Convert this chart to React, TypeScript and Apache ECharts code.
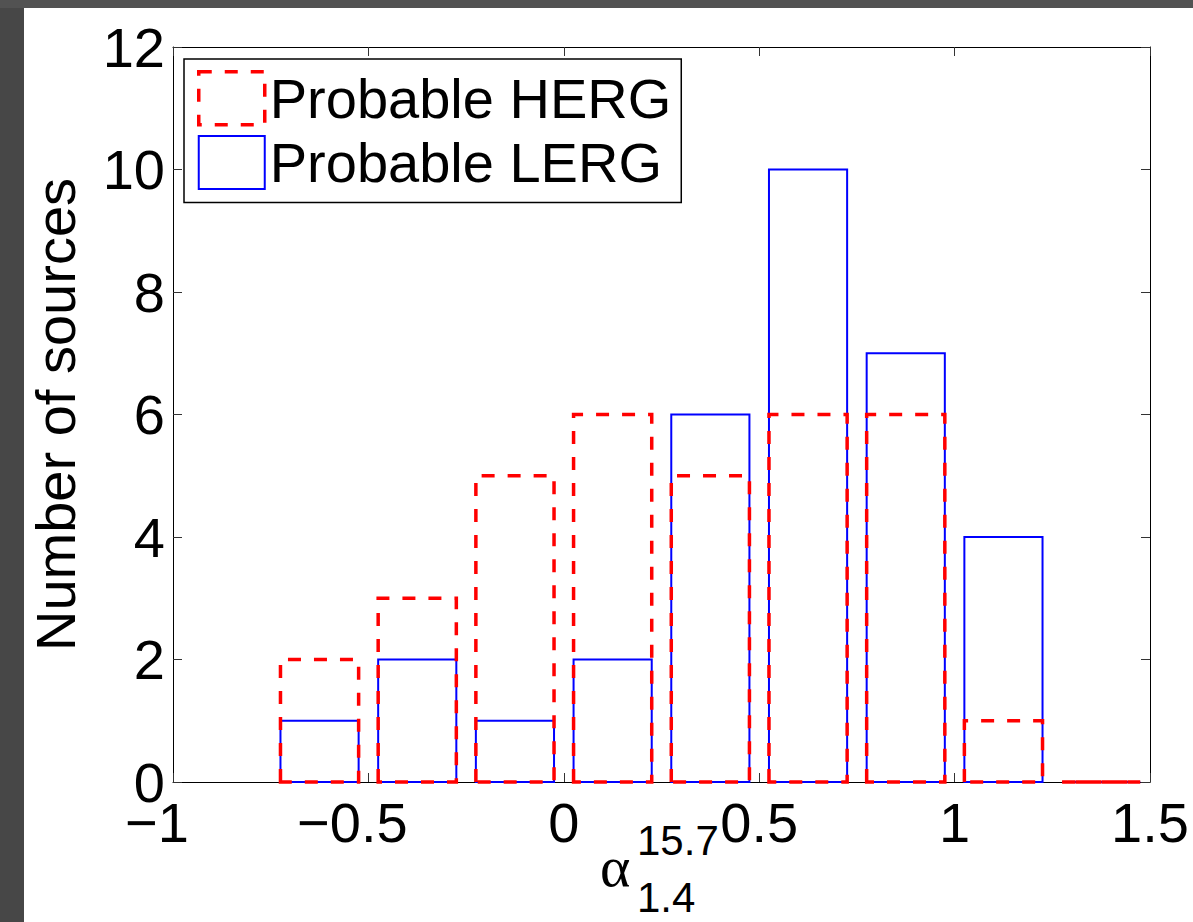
import React, { useEffect, useRef } from "react";
import * as echarts from "echarts";

// ---- data ----
const binCenters = [-0.625, -0.375, -0.125, 0.125, 0.375, 0.625, 0.875, 1.125, 1.375];
const hergCounts = [2, 3, 5, 6, 5, 6, 6, 1, 0];
const lergCounts = [1, 2, 1, 2, 6, 10, 7, 4, 0];
const xTickValues = [-1, -0.5, 0, 0.5, 1, 1.5];
const yTickValues = [0, 2, 4, 6, 8, 10, 12];
const seriesNames = ["Probable HERG", "Probable LERG"];
const BAR_WIDTH = 0.2;

const FONT = "'Liberation Sans', Arial, Helvetica, sans-serif";
const SERIF = "'Liberation Serif', 'Times New Roman', serif";

function fmtX(v: number): string {
  // MATLAB centres the unsigned number on the tick and puts the minus sign to its left
  return v < 0 ? "{neg|\u2212" + String(Math.abs(v)) + "}" : "{pos|" + String(v) + "}";
}

function makeRender(stroke: string, lineWidth: number, lineDash: number[] | null) {
  return function (params: any, api: any) {
    const c = api.value(0);
    const v = api.value(1);
    const bl = api.coord([c - BAR_WIDTH / 2, 0]);
    const tl = api.coord([c - BAR_WIDTH / 2, v]);
    const tr = api.coord([c + BAR_WIDTH / 2, v]);
    const br = api.coord([c + BAR_WIDTH / 2, 0]);
    return {
      type: "polygon",
      shape: { points: [bl, tl, tr, br] },
      style: {
        fill: "none",
        stroke,
        lineWidth,
        lineDash: lineDash || undefined,
      },
    };
  };
}

export default function App() {
  const ref = useRef<HTMLDivElement>(null);

  useEffect(() => {
    document.body.style.margin = "0";
    if (!ref.current) return;
    const chart = echarts.init(ref.current, undefined, { renderer: "svg" });

    const xMin = xTickValues[0];
    const xMax = xTickValues[xTickValues.length - 1];
    const yMin = yTickValues[0];
    const yMax = yTickValues[yTickValues.length - 1];

    const baseX = {
      type: "value",
      min: xMin,
      max: xMax,
      interval: 0.5,
      axisLine: { show: true, onZero: false, lineStyle: { color: "#000", width: 1 } },
      axisTick: { show: true, inside: true, length: 9, lineStyle: { color: "#333", width: 1 } },
      splitLine: { show: false },
    };
    const baseY = {
      type: "value",
      min: yMin,
      max: yMax,
      interval: 2,
      axisLine: { show: true, onZero: false, lineStyle: { color: "#000", width: 1 } },
      axisTick: { show: true, inside: true, length: 9, lineStyle: { color: "#333", width: 1 } },
      splitLine: { show: false },
    };

    const hergData = binCenters.map((c, i) => [c, hergCounts[i]]);
    const lergData = binCenters.map((c, i) => [c, lergCounts[i]]);

    const labelText = { fontSize: 56, fontFamily: FONT, color: "#000" };

    chart.setOption({
      animation: false,
      backgroundColor: "#fff",
      grid: { left: 173, top: 47, right: 43, bottom: 140, containLabel: false },
      xAxis: [
        {
          ...baseX,
          position: "bottom",
          axisLabel: {
            show: true,
            ...labelText,
            margin: 12,
            formatter: (v: number) => fmtX(v),
            rich: {
              neg: { ...labelText, padding: [0, 32, 0, 0] },
              pos: { ...labelText },
            },
          },
        },
        { ...baseX, position: "top", axisLabel: { show: false } },
      ],
      yAxis: [
        {
          ...baseY,
          position: "left",
          name: "Number of sources",
          nameLocation: "middle",
          nameGap: 90,
          nameRotate: 90,
          nameTextStyle: { fontSize: 56, fontFamily: FONT, color: "#000" },
          axisLabel: {
            show: true,
            ...labelText,
            margin: 8,
          },
        },
        { ...baseY, position: "right", axisLabel: { show: false } },
      ],
      legend: {
        orient: "vertical",
        left: 184,
        top: 59,
        padding: [11, 10, 12, 13],
        itemGap: 8,
        itemWidth: 66,
        itemHeight: 53,
        backgroundColor: "#fff",
        borderColor: "#000",
        borderWidth: 1.5,
        borderRadius: 0,
        selectedMode: false,
        textStyle: { fontSize: 56, fontFamily: FONT, color: "#000", lineHeight: 53 },
        data: [
          {
            name: seriesNames[0],
            icon: "rect",
            itemStyle: { color: "rgba(0,0,0,0)", borderColor: "#ff0000", borderWidth: 3.5, borderType: [13, 13] },
          },
          {
            name: seriesNames[1],
            icon: "rect",
            itemStyle: { color: "rgba(0,0,0,0)", borderColor: "#0000ff", borderWidth: 2 },
          },
        ],
      },
      series: [
        {
          name: seriesNames[1],
          type: "custom",
          xAxisIndex: 0,
          yAxisIndex: 0,
          renderItem: makeRender("#0000ff", 2, null),
          encode: { x: 0, y: 1 },
          data: lergData,
          itemStyle: { color: "#0000ff" },
          z: 2,
        },
        {
          name: seriesNames[0],
          type: "custom",
          xAxisIndex: 0,
          yAxisIndex: 0,
          renderItem: makeRender("#ff0000", 3.5, [13, 13]),
          encode: { x: 0, y: 1 },
          data: hergData,
          itemStyle: { color: "#ff0000" },
          z: 3,
        },
      ],
      graphic: [
        { type: "rect", left: 0, top: 0, shape: { width: 24, height: 922 }, style: { fill: "#474747" }, silent: true },
        { type: "rect", left: 0, top: 0, shape: { width: 1193, height: 8 }, style: { fill: "#525252" }, silent: true },
        {
          type: "text",
          x: 600,
          y: 866,
          style: { text: "\u03b1", font: `58px ${SERIF}`, fill: "#000", textAlign: "left", textVerticalAlign: "middle" },
          silent: true,
        },
        {
          type: "text",
          x: 637,
          y: 840,
          style: { text: "15.7", font: `42px ${FONT}`, fill: "#000", textAlign: "left", textVerticalAlign: "middle" },
          silent: true,
        },
        {
          type: "text",
          x: 637,
          y: 897,
          style: { text: "1.4", font: `42px ${FONT}`, fill: "#000", textAlign: "left", textVerticalAlign: "middle" },
          silent: true,
        },
      ],
    });

    return () => {
      chart.dispose();
    };
  }, []);

  return <div ref={ref} style={{ width: 1193, height: 922 }} />;
}
